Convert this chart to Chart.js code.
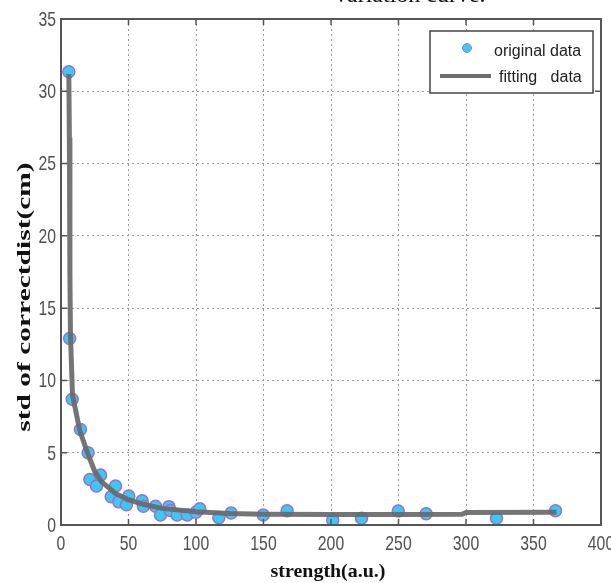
<!DOCTYPE html>
<html>
<head>
<meta charset="utf-8">
<script src="https://cdn.jsdelivr.net/npm/chart.js@4/dist/chart.umd.min.js"></script>
<style>
    body { margin: 0; background: #fff; }
    #wrap { position: relative; width: 611px; height: 583px; overflow: hidden; }
    #caption { position: absolute; left: 335px; top: -19px; font: 24px "Liberation Serif", "Times New Roman", serif; color: #111; white-space: nowrap; }
</style>
</head>
<body>
<div id="wrap">
    <canvas id="curveChart" width="611" height="583"></canvas>
    <div id="caption">variation curve.</div>
</div>
<script>
// measured points
const strength = [5.8, 6.4, 8.3, 14.4, 20.1, 21.4, 26.3, 29.3, 37.2, 40.4, 42.8, 48.5, 50.2, 60.1, 61, 70, 73.7, 79.9, 81, 86, 93.5, 100, 102.8, 116.9, 126, 149.8, 167.5, 201.3, 222.6, 249.8, 270.5, 322.6, 366.3];
const stdValues = [31.35, 12.9, 8.7, 6.6, 5.0, 3.15, 2.7, 3.45, 1.95, 2.7, 1.6, 1.4, 2.0, 1.68, 1.3, 1.3, 0.69, 1.27, 1.0, 0.69, 0.7, 0.88, 1.13, 0.5, 0.83, 0.69, 0.99, 0.35, 0.46, 0.97, 0.78, 0.46, 0.99];

// fitted curve as drawn
const fitX = [5.8, 6.2, 6.6, 7.0, 8.5, 14, 20, 25, 30, 40, 50, 60, 75, 100, 125, 150, 200, 250, 297, 300, 367];
const fitY = [31.2, 26.8, 17.5, 13.2, 9.0, 6.5, 4.9, 3.7, 3.0, 2.2, 1.75, 1.45, 1.15, 0.92, 0.8, 0.75, 0.72, 0.72, 0.74, 0.86, 0.88];

const xTicks = [0, 50, 100, 150, 200, 250, 300, 350, 400];
const yTicks = [0, 5, 10, 15, 20, 25, 30, 35];

const tickFont = "21px 'Liberation Sans', Arial, sans-serif";
const titleFont = "bold 19px 'Liberation Serif', 'Times New Roman', serif";

// MATLAB-ish frame, squeezed tick labels, titles and legend
const frameAndLegend = {
    id: 'frameAndLegend',
    afterDatasetsDraw(chart) {
        const ctx = chart.ctx;
        const a = chart.chartArea;
        const xs = chart.scales.x, ys = chart.scales.y;
        ctx.save();
        ctx.strokeStyle = '#555';
        ctx.lineWidth = 1.5;
        ctx.beginPath();
        xTicks.forEach(function (v) {
            const px = xs.getPixelForValue(v);
            ctx.moveTo(px, a.bottom); ctx.lineTo(px, a.bottom - 6);
            ctx.moveTo(px, a.top); ctx.lineTo(px, a.top + 6);
        });
        yTicks.forEach(function (v) {
            const py = ys.getPixelForValue(v);
            ctx.moveTo(a.left, py); ctx.lineTo(a.left + 6, py);
            ctx.moveTo(a.right, py); ctx.lineTo(a.right - 6, py);
        });
        ctx.stroke();
        ctx.lineWidth = 2;
        ctx.strokeRect(a.left, a.top, a.right - a.left, a.bottom - a.top);

        // tick labels
        ctx.fillStyle = '#505050';
        ctx.font = tickFont;
        ctx.textBaseline = 'alphabetic';
        ctx.textAlign = 'center';
        xTicks.forEach(function (v) {
            ctx.save();
            ctx.translate(xs.getPixelForValue(v), a.bottom + 25);
            ctx.scale(0.75, 1);
            ctx.fillText(String(v), 0, 0);
            ctx.restore();
        });
        ctx.textAlign = 'right';
        ctx.textBaseline = 'middle';
        yTicks.forEach(function (v) {
            ctx.save();
            ctx.translate(a.left - 5, ys.getPixelForValue(v) + 1);
            ctx.scale(0.75, 1);
            ctx.fillText(String(v), 0, 0);
            ctx.restore();
        });

        // axis titles
        ctx.fillStyle = '#111';
        ctx.font = titleFont;
        ctx.textAlign = 'center';
        ctx.textBaseline = 'alphabetic';
        ctx.save();
        ctx.translate(328, 577);
        ctx.scale(1.05, 1);
        ctx.fillText('strength(a.u.)', 0, 0);
        ctx.restore();
        ctx.save();
        ctx.translate(30, 297);
        ctx.rotate(-Math.PI / 2);
        ctx.scale(1.55, 1);
        ctx.fillText('std of correctdist(cm)', 0, 0);
        ctx.restore();

        // legend box
        const bx = a.right - 171, by = a.top + 12, bw = 163, bh = 62;
        ctx.fillStyle = '#fff';
        ctx.fillRect(bx, by, bw, bh);
        ctx.lineWidth = 1.5;
        ctx.strokeStyle = '#444';
        ctx.strokeRect(bx, by, bw, bh);
        ctx.beginPath();
        ctx.arc(bx + 37, by + 17, 4.5, 0, Math.PI * 2);
        ctx.fillStyle = '#3cc8f0';
        ctx.fill();
        ctx.strokeStyle = '#a27ad8';
        ctx.lineWidth = 1;
        ctx.stroke();
        ctx.strokeStyle = '#6e6e6e';
        ctx.lineWidth = 4;
        ctx.beginPath();
        ctx.moveTo(bx + 10, by + 45); ctx.lineTo(bx + 61, by + 45);
        ctx.stroke();
        ctx.fillStyle = '#222';
        ctx.font = "16px 'Liberation Sans', Arial, sans-serif";
        ctx.textAlign = 'left';
        ctx.textBaseline = 'alphabetic';
        ctx.fillText('original data', bx + 64, by + 25);
        ctx.fillText('fitting   data', bx + 69, by + 51);
        ctx.restore();
    }
};

new Chart(document.getElementById('curveChart'), {
    type: 'scatter',
    data: {
        datasets: [{
            label: 'fitting   data',
            data: fitX.map(function (x, i) { return { x: x, y: fitY[i] }; }),
            showLine: true,
            borderColor: 'rgba(105,105,105,0.92)',
            borderWidth: 5,
            pointRadius: 0,
            tension: 0,
            order: 0
        }, {
            label: 'original data',
            data: strength.map(function (x, i) { return { x: x, y: stdValues[i] }; }),
            pointRadius: 6,
            pointBackgroundColor: '#3cc8f0',
            pointBorderColor: '#9a70d4',
            pointBorderWidth: 1.5,
            order: 1
        }]
    },
    options: {
        responsive: false,
        animation: false,
        devicePixelRatio: 1,
        layout: { padding: { top: 19, right: 10, left: 0, bottom: 0 } },
        plugins: { legend: { display: false }, tooltip: { enabled: false } },
        scales: {
            x: {
                type: 'linear', min: 0, max: 400,
                afterBuildTicks: function (s) { s.ticks = xTicks.map(function (v) { return { value: v }; }); },
                afterFit: function (s) { s.height = 58; },
                grid: { color: '#9a9a9a', lineWidth: 1, drawTicks: false },
                border: { display: true, color: '#555', width: 2, dash: [2, 3] },
                ticks: { display: false }
            },
            y: {
                type: 'linear', min: 0, max: 35,
                afterBuildTicks: function (s) { s.ticks = yTicks.map(function (v) { return { value: v }; }); },
                afterFit: function (s) { s.width = 61; },
                grid: { color: '#9a9a9a', lineWidth: 1, drawTicks: false },
                border: { display: true, color: '#555', width: 2, dash: [2, 3] },
                ticks: { display: false }
            }
        }
    },
    plugins: [frameAndLegend]
});
</script>
</body>
</html>
